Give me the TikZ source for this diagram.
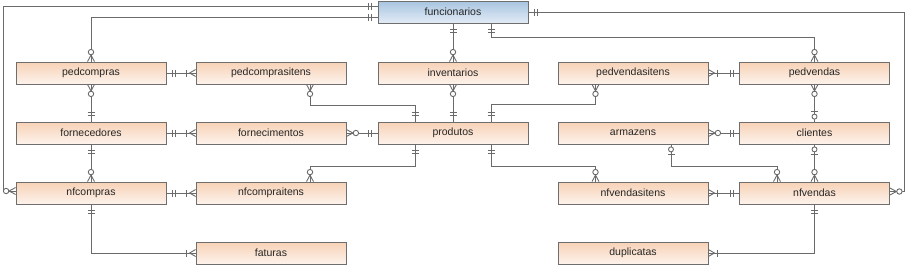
\documentclass[tikz,border=0pt]{standalone}
\usepackage{fontspec}
\setmainfont{Liberation Sans}
\usetikzlibrary{calc}
\definecolor{lncol}{HTML}{6A6A6A}
\definecolor{bdcol}{HTML}{6E6E6E}
\definecolor{peachtop}{HTML}{F7D2B6}
\definecolor{peachbot}{HTML}{FDF3EC}
\definecolor{bluetop}{HTML}{A8C4E0}
\definecolor{bluebot}{HTML}{E2ECF6}
\tikzset{
  entity/.style={draw=bdcol, line width=0.8pt, minimum width=150pt, minimum height=22pt,
    inner sep=0pt, top color=peachtop, bottom color=peachbot, font=\fontsize{10.5}{12}\selectfont, text=black!85},
  mainentity/.style={entity, top color=bluetop, bottom color=bluebot},
  conn/.style={draw=lncol, line width=1pt},
  sym/.style={draw=lncol, line width=0.9pt}
}
% symbols: #1 point on box edge, #2 direction pointing away from box
\newcommand{\SymOO}[2]{\begin{scope}[shift={#1},rotate=#2]
  \draw[sym] (6,-3.5)--(6,3.5); \draw[sym] (9,-3.5)--(9,3.5);\end{scope}}
\newcommand{\SymZM}[2]{\begin{scope}[shift={#1},rotate=#2]
  \draw[sym] (0,-3.5)--(6.5,0)--(0,3.5); \draw[sym,fill=white] (9.5,0) circle[radius=2.7];\end{scope}}
\newcommand{\SymOM}[2]{\begin{scope}[shift={#1},rotate=#2]
  \draw[sym] (0,-3.5)--(6,0)--(0,3.5); \draw[sym] (9,-3.5)--(9,3.5);\end{scope}}
\newcommand{\SymZO}[2]{\begin{scope}[shift={#1},rotate=#2]
  \draw[sym,fill=white] (5,0) circle[radius=2.5]; \draw[sym] (10,-3.5)--(10,3.5);\end{scope}}
\begin{document}
\begin{tikzpicture}[x=1pt,y=-1pt]
\useasboundingbox[fill=white] (0,0) rectangle (906,266);
% entities
\node[mainentity] (F) at (453,12) {funcionarios};
\node[entity] (pedcompras) at (91,73) {pedcompras};
\node[entity] (pedcompraitens) at (271,73) {pedcomprasitens};
\node[entity] (inventarios) at (453,73) {inventarios};
\node[entity] (pedvendasitens) at (633,73) {pedvendasitens};
\node[entity] (pedvendas) at (814.5,73) {pedvendas};
\node[entity] (fornecedores) at (91,133) {fornecedores};
\node[entity] (fornecimentos) at (271,133) {fornecimentos};
\node[entity] (produtos) at (453,133) {produtos};
\node[entity] (armazens) at (633,133) {armazens};
\node[entity] (clientes) at (814.5,133) {clientes};
\node[entity] (nfcompras) at (91,193) {nfcompras};
\node[entity] (nfcompraitens) at (271,193) {nfcompraitens};
\node[entity] (nfvendasitens) at (633,193) {nfvendasitens};
\node[entity] (nfvendas) at (814.5,193) {nfvendas};
\node[entity] (faturas) at (271,253) {faturas};
\node[entity] (duplicatas) at (633,253) {duplicatas};
% connectors
\draw[conn] ($(F.west)+(0,-6)$) -- ++(-374,0) |- ($(nfcompras.west)+(0,-2)$);
\draw[conn] ($(F.west)+(0,5)$) -| (pedcompras.north);
\draw[conn] (F.east) -- ++(376,0) |- ($(nfvendas.east)+(0,-1.5)$);
\draw[conn] (F.south) -- (inventarios.north);
\draw[conn] ($(F.south)+(38,0)$) -- ++(0,14) -| (pedvendas.north);
\draw[conn] (pedcompras.east) -- (pedcompraitens.west);
\draw[conn] (pedcompras.south) -- (fornecedores.north);
\draw[conn] ($(pedcompraitens.south)+(39,0)$) -- ++(0,21) -| ($(produtos.north)+(-38,0)$);
\draw[conn] (inventarios.south) -- (produtos.north);
\draw[conn] ($(produtos.north)+(38,0)$) -- ++(0,-17) -| ($(pedvendasitens.south)+(-37.5,0)$);
\draw[conn] (pedvendasitens.east) -- (pedvendas.west);
\draw[conn] (pedvendas.south) -- (clientes.north);
\draw[conn] (fornecedores.east) -- (fornecimentos.west);
\draw[conn] (fornecimentos.east) -- (produtos.west);
\draw[conn] (armazens.east) -- (clientes.west);
\draw[conn] (fornecedores.south) -- (nfcompras.north);
\draw[conn] ($(produtos.south)+(-38,0)$) -- ++(0,22) -| ($(nfcompraitens.north)+(39,0)$);
\draw[conn] ($(produtos.south)+(38,0)$) -- ++(0,22) -| ($(nfvendasitens.north)+(-37.5,0)$);
\draw[conn] (clientes.south) -- (nfvendas.north);
\draw[conn] ($(armazens.south)+(38,0)$) -- ++(0,22) -| ($(nfvendas.north)+(-37.5,0)$);
\draw[conn] (nfcompras.east) -- (nfcompraitens.west);
\draw[conn] (nfvendasitens.east) -- (nfvendas.west);
\draw[conn] (nfcompras.south) |- (faturas.west);
\draw[conn] (nfvendas.south) |- (duplicatas.east);
% symbols
\SymOO{($(F.west)+(0,-6)$)}{180}
\SymZM{($(nfcompras.west)+(0,-2)$)}{180}
\SymOO{($(F.west)+(0,5)$)}{180}
\SymZM{(pedcompras.north)}{90}
\SymOO{(F.east)}{0}
\SymZM{($(nfvendas.east)+(0,-1.5)$)}{0}
\SymOO{(F.south)}{-90}
\SymZM{(inventarios.north)}{90}
\SymOO{($(F.south)+(38,0)$)}{-90}
\SymZM{(pedvendas.north)}{90}
\SymOO{(pedcompras.east)}{0}
\SymOM{(pedcompraitens.west)}{180}
\SymZM{(pedcompras.south)}{-90}
\SymOO{(fornecedores.north)}{90}
\SymZM{($(pedcompraitens.south)+(39,0)$)}{-90}
\SymOO{($(produtos.north)+(-38,0)$)}{90}
\SymZM{(inventarios.south)}{-90}
\SymOO{(produtos.north)}{90}
\SymOO{($(produtos.north)+(38,0)$)}{90}
\SymZM{($(pedvendasitens.south)+(-37.5,0)$)}{-90}
\SymOM{(pedvendasitens.east)}{0}
\SymOO{(pedvendas.west)}{180}
\SymZM{(pedvendas.south)}{-90}
\SymZO{(clientes.north)}{90}
\SymOO{(fornecedores.east)}{0}
\SymOM{(fornecimentos.west)}{180}
\SymZM{(fornecimentos.east)}{0}
\SymOO{(produtos.west)}{180}
\SymZM{(armazens.east)}{0}
\SymOO{(clientes.west)}{180}
\SymOO{(fornecedores.south)}{-90}
\SymZM{(nfcompras.north)}{90}
\SymOO{($(produtos.south)+(-38,0)$)}{-90}
\SymZM{($(nfcompraitens.north)+(39,0)$)}{90}
\SymOO{($(produtos.south)+(38,0)$)}{-90}
\SymZM{($(nfvendasitens.north)+(-37.5,0)$)}{90}
\SymZO{(clientes.south)}{-90}
\SymZM{(nfvendas.north)}{90}
\SymZO{($(armazens.south)+(38,0)$)}{-90}
\SymZM{($(nfvendas.north)+(-37.5,0)$)}{90}
\SymOO{(nfcompras.east)}{0}
\SymOM{(nfcompraitens.west)}{180}
\SymOM{(nfvendasitens.east)}{0}
\SymOO{(nfvendas.west)}{180}
\SymOO{(nfcompras.south)}{-90}
\SymOM{(faturas.west)}{180}
\SymOO{(nfvendas.south)}{-90}
\SymOM{(duplicatas.east)}{0}
\end{tikzpicture}
\end{document}
